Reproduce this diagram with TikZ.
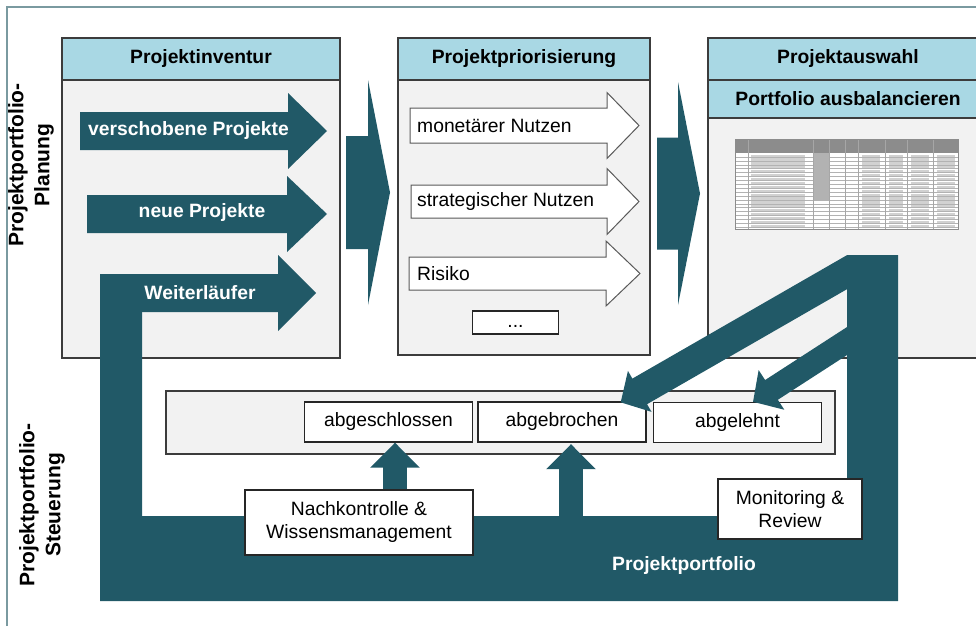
\documentclass[tikz,border=0pt]{standalone}
\usepackage{fontspec}
\setmainfont{Liberation Sans}
\usetikzlibrary{arrows.meta,calc}

\definecolor{petrol}{HTML}{215967}
\definecolor{kopfblau}{HTML}{A9D8E4}
\definecolor{flaeche}{HTML}{F2F2F2}
\definecolor{rahmen}{HTML}{3C3C3C}
\definecolor{randlinie}{HTML}{7A9AA0}

\newcommand{\grund}{\fontsize{19.3}{23}\selectfont}

% block arrow: tail x, shaft end x, tip x, centre y, half shaft, half head
\newcommand{\blockarrow}[7][]{%
  \path[#1] (#2,#5-#6) -- (#3,#5-#6) -- (#3,#5-#7) -- (#4,#5)
    -- (#3,#5+#7) -- (#3,#5+#6) -- (#2,#5+#6) -- cycle;}

\tikzset{
  panel/.style={draw=rahmen, line width=1.5pt, fill=flaeche},
  header/.style={draw=rahmen, line width=1.5pt, fill=kopfblau,
    font=\grund\bfseries, minimum height=42pt, inner sep=0pt},
  darklabel/.style={text=white, font=\grund\bfseries, inner sep=0pt},
  lightarrow/.style={draw=black!65, line width=1pt, fill=white},
  statusbox/.style={draw=black!85, line width=1.3pt, fill=white,
    minimum width=168pt, minimum height=40pt, inner sep=0pt},
  infobox/.style={draw=black!85, line width=1.3pt, fill=white,
    align=center, inner sep=0pt},
  flow/.style={draw=petrol, line width=24pt, -{Triangle[length=25pt,width=48pt]}},
  diag/.style={draw=petrol, -{Triangle[length=22pt,width=46pt]}},
  sidelabel/.style={rotate=90, align=center,
    font=\fontsize{21}{26}\selectfont\bfseries}
}

\begin{document}
\begin{tikzpicture}[x=1pt,y=-1pt,font=\grund]
    \useasboundingbox (0,0) rectangle (976,626);

    % frame
    \draw[randlinie, line width=1.2pt] (7,626) -- (7,7) -- (976,7);

    % side labels
    \node[sidelabel] (planung) at (31,165) {Projektportfolio-\\Planung};
    \node[sidelabel] (steuerung) at (42,505) {Projektportfolio-\\Steuerung};

    % Projektinventur
    \draw[panel] (62,38) rectangle (340,358);
    \node[header, minimum width=278pt] (inventur) at (201,59) {Projektinventur};

    % Projektpriorisierung
    \draw[panel] (398,38) rectangle (650,355);
    \node[header, minimum width=252pt] (priorisierung) at (524,59) {Projektpriorisierung};
    \blockarrow[lightarrow]{410}{607}{639}{125.5}{17.5}{33}
    \node[anchor=west, inner sep=0pt] (monetaer) at (417,125.5) {monetärer Nutzen};
    \blockarrow[lightarrow]{411}{607}{639}{201.5}{16.5}{33}
    \node[anchor=west, inner sep=0pt] (strategie) at (417,201.5) {strategischer Nutzen};
    \blockarrow[lightarrow]{409}{606}{640}{273.5}{16.5}{32.5}
    \node[anchor=west, inner sep=0pt] (risiko) at (417,273.5) {Risiko};
    \node[draw=black!85, line width=1.3pt, fill=white, minimum width=86pt,
      minimum height=23pt, inner sep=0pt] (weitere) at (515.5,322.5) {\strut...};

    % Projektauswahl
    \draw[panel] (708,38) rectangle (988,358);
    \node[header, minimum width=280pt] (auswahl) at (848,59) {Projektauswahl};
    \node[header, minimum width=280pt, minimum height=38pt] (balance) at (848,99) {Portfolio ausbalancieren};

    % portfolio table (thumbnail)
    \fill[white] (735,139) rectangle (958,229);
    \fill[black!45] (735,139) rectangle (958,153);
    \fill[black!30] (813,153) rectangle (829,200);
    \foreach \r in {0,...,18} {
      \fill[black!18] (751,154.5+\r*3.9) rectangle (805,156.8+\r*3.9);
      \fill[black!18] (862,154.5+\r*3.9) rectangle (880,156.8+\r*3.9);
      \fill[black!18] (889,154.5+\r*3.9) rectangle (903,156.8+\r*3.9);
      \fill[black!18] (911,154.5+\r*3.9) rectangle (929,156.8+\r*3.9);
      \fill[black!18] (937,154.5+\r*3.9) rectangle (955,156.8+\r*3.9);
    }
    \foreach \r in {1,...,19}
      \draw[black!30, line width=0.4pt] (735,153+\r*3.9) -- (958,153+\r*3.9);
    \foreach \c in {748,813,829,845,858,885,907,933}
      \draw[black!35, line width=0.4pt] (\c,139) -- (\c,229);
    \draw[black!45, line width=0.6pt] (735,139) rectangle (958,229);

    % phase arrows
    \blockarrow[fill=petrol]{346}{368}{390}{192.5}{56.5}{112.5}
    \blockarrow[fill=petrol]{657}{678}{700}{193.5}{56}{111.5}

    % portfolio band
    \fill[petrol] (100,283) -- (142,283) -- (142,516) -- (847,516) -- (847,255)
      -- (898,255) -- (898,601) -- (100,601) -- cycle;
    \node[darklabel] (portfolio) at (684,566) {Projektportfolio};

    % inputs
    \blockarrow[fill=petrol]{80}{288}{327}{131}{19}{38}
    \node[darklabel] (verschoben) at (188.5,131) {verschobene Projekte};
    \blockarrow[fill=petrol]{87}{287}{327}{214}{19}{38}
    \node[darklabel] (neu) at (202,213) {neue Projekte};
    \blockarrow[fill=petrol]{100}{278}{316}{293}{19}{38}
    \node[darklabel] (weiterlaeufer) at (200,293) {Weiterläufer};

    % status row
    \draw[panel, line width=1.3pt] (166,391) rectangle (835,454);
    \node[statusbox] (abgeschlossen) at (388.5,422) {abgeschlossen};
    \node[statusbox] (abgebrochen) at (562,422) {abgebrochen};
    \node[statusbox] (abgelehnt) at (737.5,422.5) {abgelehnt};

    % flows into the status row
    \coordinate (band) at (142,516);
    \coordinate (tipA) at ($(abgeschlossen.south)+(6.5,0)$);
    \coordinate (tipB) at ($(abgebrochen.south)+(9,1.5)$);
    \draw[flow] (tipA |- band) -- (tipA);
    \draw[flow] (tipB |- band) -- (tipB);

    \coordinate (out1) at (854.4,267.9);
    \coordinate (out2) at (853.4,336.9);
    \draw[diag, line width=29.5pt] (out1) -- ($(abgebrochen.north east)+(-26,1)$);
    \draw[diag, line width=23.5pt] (out2) -- ($(abgelehnt.north)+(15.5,0)$);

    % control boxes
    \node[infobox, minimum width=228pt, minimum height=65pt] (nachkontrolle)
      at (359,522.5) {Nachkontrolle \&\\Wissensmanagement};
    \node[infobox, minimum width=144pt, minimum height=60pt] (monitoring)
      at (790,509) {Monitoring \&\\Review};
\end{tikzpicture}
\end{document}
